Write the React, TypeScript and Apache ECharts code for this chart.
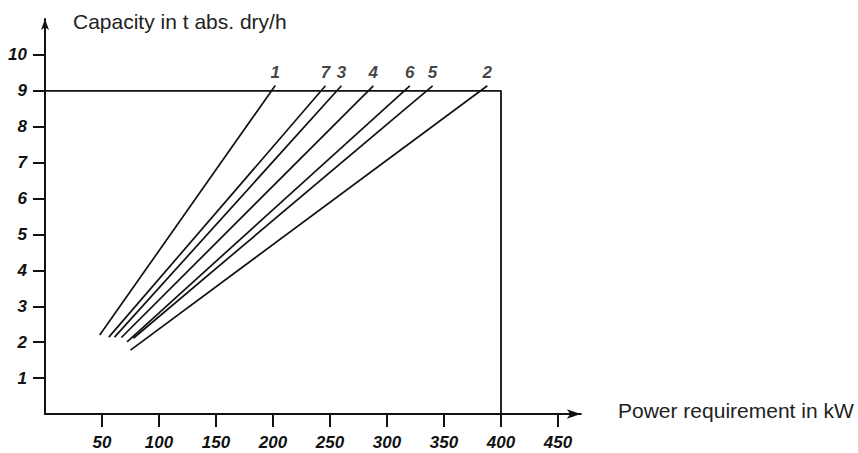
import React, { useEffect, useRef } from 'react';
import * as echarts from 'echarts';

// Curve identifiers (as printed above each line)
const lineIds = ['1', '7', '3', '4', '6', '5', '2'];
// Lower end of each line (power kW, capacity t/h)
const startPower = [48, 56, 61, 67, 72, 77.5, 75];
const startCapacity = [2.2, 2.14, 2.14, 2.13, 2.01, 2.11, 1.78];
// Upper end of each line
const endPower = [202, 246, 260, 288, 320, 340, 388];
const endCapacity = [9.15, 9.14, 9.14, 9.14, 9.14, 9.14, 9.14];
// Limit frame
const limitPower = 400;
const limitCapacity = 9;
// Tick values
const xTicks = [50, 100, 150, 200, 250, 300, 350, 400, 450];
const yTicks = [1, 2, 3, 4, 5, 6, 7, 8, 9, 10];
const yTitle = 'Capacity in t abs. dry/h';
const xTitle = 'Power requirement in kW';

const INK = '#111';
const labelFont = {
  fontFamily: 'Liberation Sans',
  fontStyle: 'italic' as const,
  fontWeight: 'bold' as const,
  fontSize: 17,
  color: INK,
};

export default function App() {
  const ref = useRef<HTMLDivElement>(null);
  useEffect(() => {
    if (!ref.current) return;
    const chart = echarts.init(ref.current, undefined, { renderer: 'svg' });
    const lineSeries = lineIds.map((id, i) => ({
      type: 'line',
      name: 'Line ' + id,
      data: [
        [startPower[i], startCapacity[i]],
        [endPower[i], endCapacity[i]],
      ],
      symbol: 'none',
      lineStyle: { color: INK, width: 1.7 },
      silent: true,
      z: 3,
    }));
    chart.setOption({
      animation: false,
      grid: { left: 45, right: 277.2, top: 19, bottom: 39 },
      xAxis: {
        type: 'value',
        min: 0,
        max: 470,
        interval: 50,
        axisLine: {
          show: true,
          symbol: ['none', 'arrow'],
          symbolSize: [7, 14],
          lineStyle: { color: INK, width: 2 },
        },
        axisTick: {
          show: true,
          length: 13,
          customValues: xTicks,
          lineStyle: { color: INK, width: 2 },
        },
        axisLabel: { ...labelFont, margin: 20, customValues: xTicks },
        splitLine: { show: false },
      },
      yAxis: {
        type: 'value',
        min: 0,
        max: 11,
        interval: 1,
        axisLine: {
          show: true,
          symbol: ['none', 'arrow'],
          symbolSize: [6, 11],
          lineStyle: { color: INK, width: 2 },
        },
        axisTick: {
          show: true,
          length: 12,
          customValues: yTicks,
          lineStyle: { color: INK, width: 2 },
        },
        axisLabel: { ...labelFont, margin: 18, customValues: yTicks },
        splitLine: { show: false },
      },
      graphic: [
        {
          type: 'text',
          left: 73,
          top: 11,
          style: {
            text: yTitle,
            fontFamily: 'Liberation Sans',
            fontSize: 21,
            fill: '#222',
          },
        },
        {
          type: 'text',
          left: 618,
          top: 400,
          style: {
            text: xTitle,
            fontFamily: 'Liberation Sans',
            fontSize: 21,
            fill: '#222',
          },
        },
      ],
      series: [
        ...lineSeries,
        {
          type: 'line',
          name: 'Limit',
          data: [
            [0, limitCapacity],
            [limitPower, limitCapacity],
            [limitPower, 0],
          ],
          symbol: 'none',
          lineStyle: { color: INK, width: 1.8 },
          silent: true,
          z: 2,
        },
        {
          type: 'scatter',
          name: 'Labels',
          data: lineIds.map((id, i) => ({
            name: id,
            value: [endPower[i], endCapacity[i]],
          })),
          symbolSize: 1,
          itemStyle: { color: 'rgba(0,0,0,0)' },
          label: {
            show: true,
            position: 'top',
            distance: 4,
            formatter: '{b}',
            ...labelFont,
          },
          silent: true,
          z: 4,
        },
      ],
    });
    return () => chart.dispose();
  }, []);
  return (
    <div
      ref={ref}
      style={{ width: 858, height: 453, position: 'fixed', left: 0, top: 0, background: '#fff' }}
    />
  );
}
